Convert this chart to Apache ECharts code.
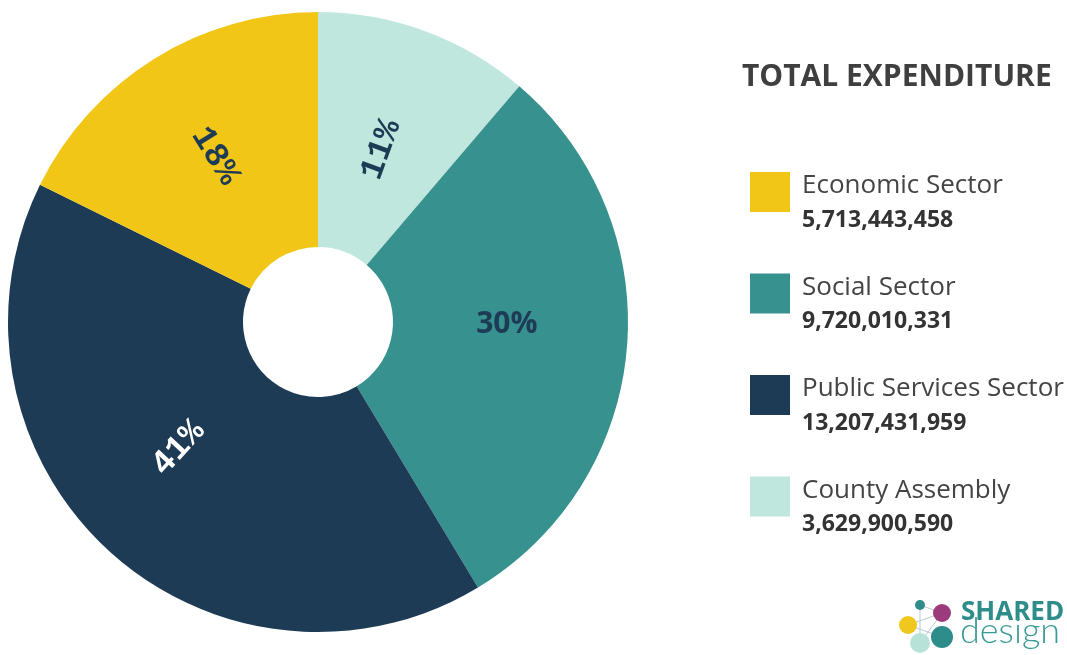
<!DOCTYPE html>
<html>
<head>
<meta charset="utf-8">
<script src="https://cdn.jsdelivr.net/npm/echarts@6/dist/echarts.min.js"></script>
<style>
  html, body { margin: 0; padding: 0; background: #fff; }
  #myChart { width: 1067px; height: 655px; }
</style>
</head>
<body>
<div id="myChart"></div>
<script>
// data, in clockwise order starting from 12 o'clock
var sectors = ['County Assembly', 'Social Sector', 'Public Services Sector', 'Economic Sector'];
var amounts = [3629900590, 9720010331, 13207431959, 5713443458];
var colors = ['#c0e7de', '#36918f', '#1e3b56', '#f1c617'];
var labelColors = ['#1e3b56', '#1e3b56', '#ffffff', '#1e3b56'];
// legend order as in the picture
var legendOrder = ['Economic Sector', 'Social Sector', 'Public Services Sector', 'County Assembly'];

var total = amounts.reduce(function (a, b) { return a + b; }, 0);

function fmt(n) {
    return String(n).replace(/\B(?=(\d{3})+(?!\d))/g, ',');
}

var pieData = sectors.map(function (name, i) {
    var item = {
        name: name,
        value: amounts[i],
        itemStyle: { color: colors[i] },
        label: { color: labelColors[i] }
    };
    if (name === 'Social Sector') {
        item.label.rotate = 0;
        item.label.fontFamily = 'Open Sans';
        item.label.fontSize = 30;
        item.label.offset = [-6, -14];
    }
    // nudge rotated labels (offset is in the label's own rotated frame)
    if (name === 'Public Services Sector') {
        item.label.offset = [8, -17];
    }
    if (name === 'County Assembly') {
        item.label.offset = [-12, 0];
    }
    return item;
});

var option = {
    backgroundColor: '#ffffff',
    animation: false,
    title: {
        text: 'TOTAL EXPENDITURE',
        left: 737,
        top: 57,
        textStyle: {
            fontFamily: 'Open Sans',
            fontSize: 30,
            fontWeight: 'bold',
            color: '#3f3f3f'
        }
    },
    legend: {
        orient: 'vertical',
        left: 745,
        top: 167,
        data: legendOrder,
        icon: 'rect',
        itemWidth: 40,
        itemHeight: 40,
        itemGap: 42,
        selectedMode: false,
        formatter: function (name) {
            var i = sectors.indexOf(name);
            return '{n|' + name + '}\n{v|' + fmt(amounts[i]) + '}';
        },
        textStyle: {
            padding: [22, 0, 0, 7],
            rich: {
                n: { fontFamily: 'Open Sans', fontSize: 26, color: '#444444', lineHeight: 34 },
                v: { fontFamily: 'Open Sans', fontSize: 23, fontWeight: 'bold', color: '#333333', lineHeight: 34 }
            }
        }
    },
    series: [{
        type: 'pie',
        center: [318, 322],
        radius: [75, 310],
        startAngle: 90,
        clockwise: true,
        avoidLabelOverlap: false,
        label: {
            show: true,
            position: 'inside',
            rotate: 'radial',
            fontFamily: 'Courier New',
            fontWeight: 'bold',
            fontSize: 34,
            formatter: function (p) {
                return Math.round(p.value / total * 100) + '%';
            }
        },
        labelLine: { show: false },
        emphasis: { disabled: true },
        data: pieData
    }],
    graphic: [{
        type: 'group',
        silent: true,
        children: [
            { type: 'line', shape: { x1: 920, y1: 605, x2: 942, y2: 613 }, style: { stroke: '#b9c9d4', lineWidth: 1 } },
            { type: 'line', shape: { x1: 908, y1: 625, x2: 942, y2: 637 }, style: { stroke: '#b9c9d4', lineWidth: 1 } },
            { type: 'line', shape: { x1: 920, y1: 605, x2: 920, y2: 643 }, style: { stroke: '#b9c9d4', lineWidth: 1 } },
            { type: 'line', shape: { x1: 942, y1: 613, x2: 920, y2: 643 }, style: { stroke: '#b9c9d4', lineWidth: 1 } },
            { type: 'line', shape: { x1: 908, y1: 625, x2: 942, y2: 613 }, style: { stroke: '#b9c9d4', lineWidth: 1 } },
            { type: 'circle', shape: { cx: 920, cy: 605, r: 5 }, style: { fill: '#2e8c8a' } },
            { type: 'circle', shape: { cx: 942, cy: 613, r: 9 }, style: { fill: '#9b3b7e' } },
            { type: 'circle', shape: { cx: 908, cy: 625, r: 9 }, style: { fill: '#efc71d' } },
            { type: 'circle', shape: { cx: 920, cy: 643, r: 10 }, style: { fill: '#b7e2d8' } },
            { type: 'circle', shape: { cx: 942, cy: 637, r: 11 }, style: { fill: '#2e8c8a' } },
            { type: 'text', x: 961, y: 600, style: { text: 'SHARED', fill: '#2e8c8a', font: 'bold 26px "Open Sans"' } },
            { type: 'text', x: 960, y: 613, style: { text: 'design', fill: '#3a9a96', font: '300 36px Lato' } }
        ]
    }]
};

var myChart = echarts.init(document.getElementById('myChart'));
myChart.setOption(option);
window.onresize = function () {
    myChart.resize();
};
</script>
</body>
</html>
